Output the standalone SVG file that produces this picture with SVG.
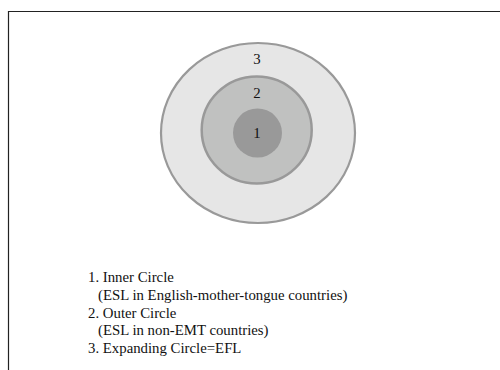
<svg xmlns="http://www.w3.org/2000/svg" width="500" height="370" viewBox="0 0 500 370">
<style>
text { font-family: "Liberation Serif", "Times New Roman", serif; font-size: 14.8px; fill: #111; }
.num { text-anchor: middle; }
</style>
<rect x="0" y="0" width="500" height="370" fill="#ffffff"/>
<g id="frame">
<path d="M8.5 370 V11.5 H500" fill="none" stroke="#222" stroke-width="1.2"/>
</g>
<g id="outer-circle">
<ellipse cx="258" cy="133" rx="97" ry="90" fill="#e6e6e6" stroke="#999999" stroke-width="2.2"/>
<text class="num" x="257" y="64">3</text>
</g>
<g id="middle-circle">
<ellipse cx="256.7" cy="130" rx="55" ry="53.5" fill="#c0c1c0" stroke="#999999" stroke-width="2.5"/>
<text class="num" x="257" y="98">2</text>
</g>
<g id="inner-circle">
<circle cx="257.5" cy="133" r="24.5" fill="#999999"/>
<text class="num" x="257" y="138">1</text>
</g>
<g id="legend">
<text x="88" y="282">1. Inner Circle</text>
<text x="98" y="300">(ESL in English-mother-tongue countries)</text>
<text x="88" y="317.5">2. Outer Circle</text>
<text x="98" y="335">(ESL in non-EMT countries)</text>
<text x="88" y="352.5">3. Expanding Circle=EFL</text>
</g>
</svg>
